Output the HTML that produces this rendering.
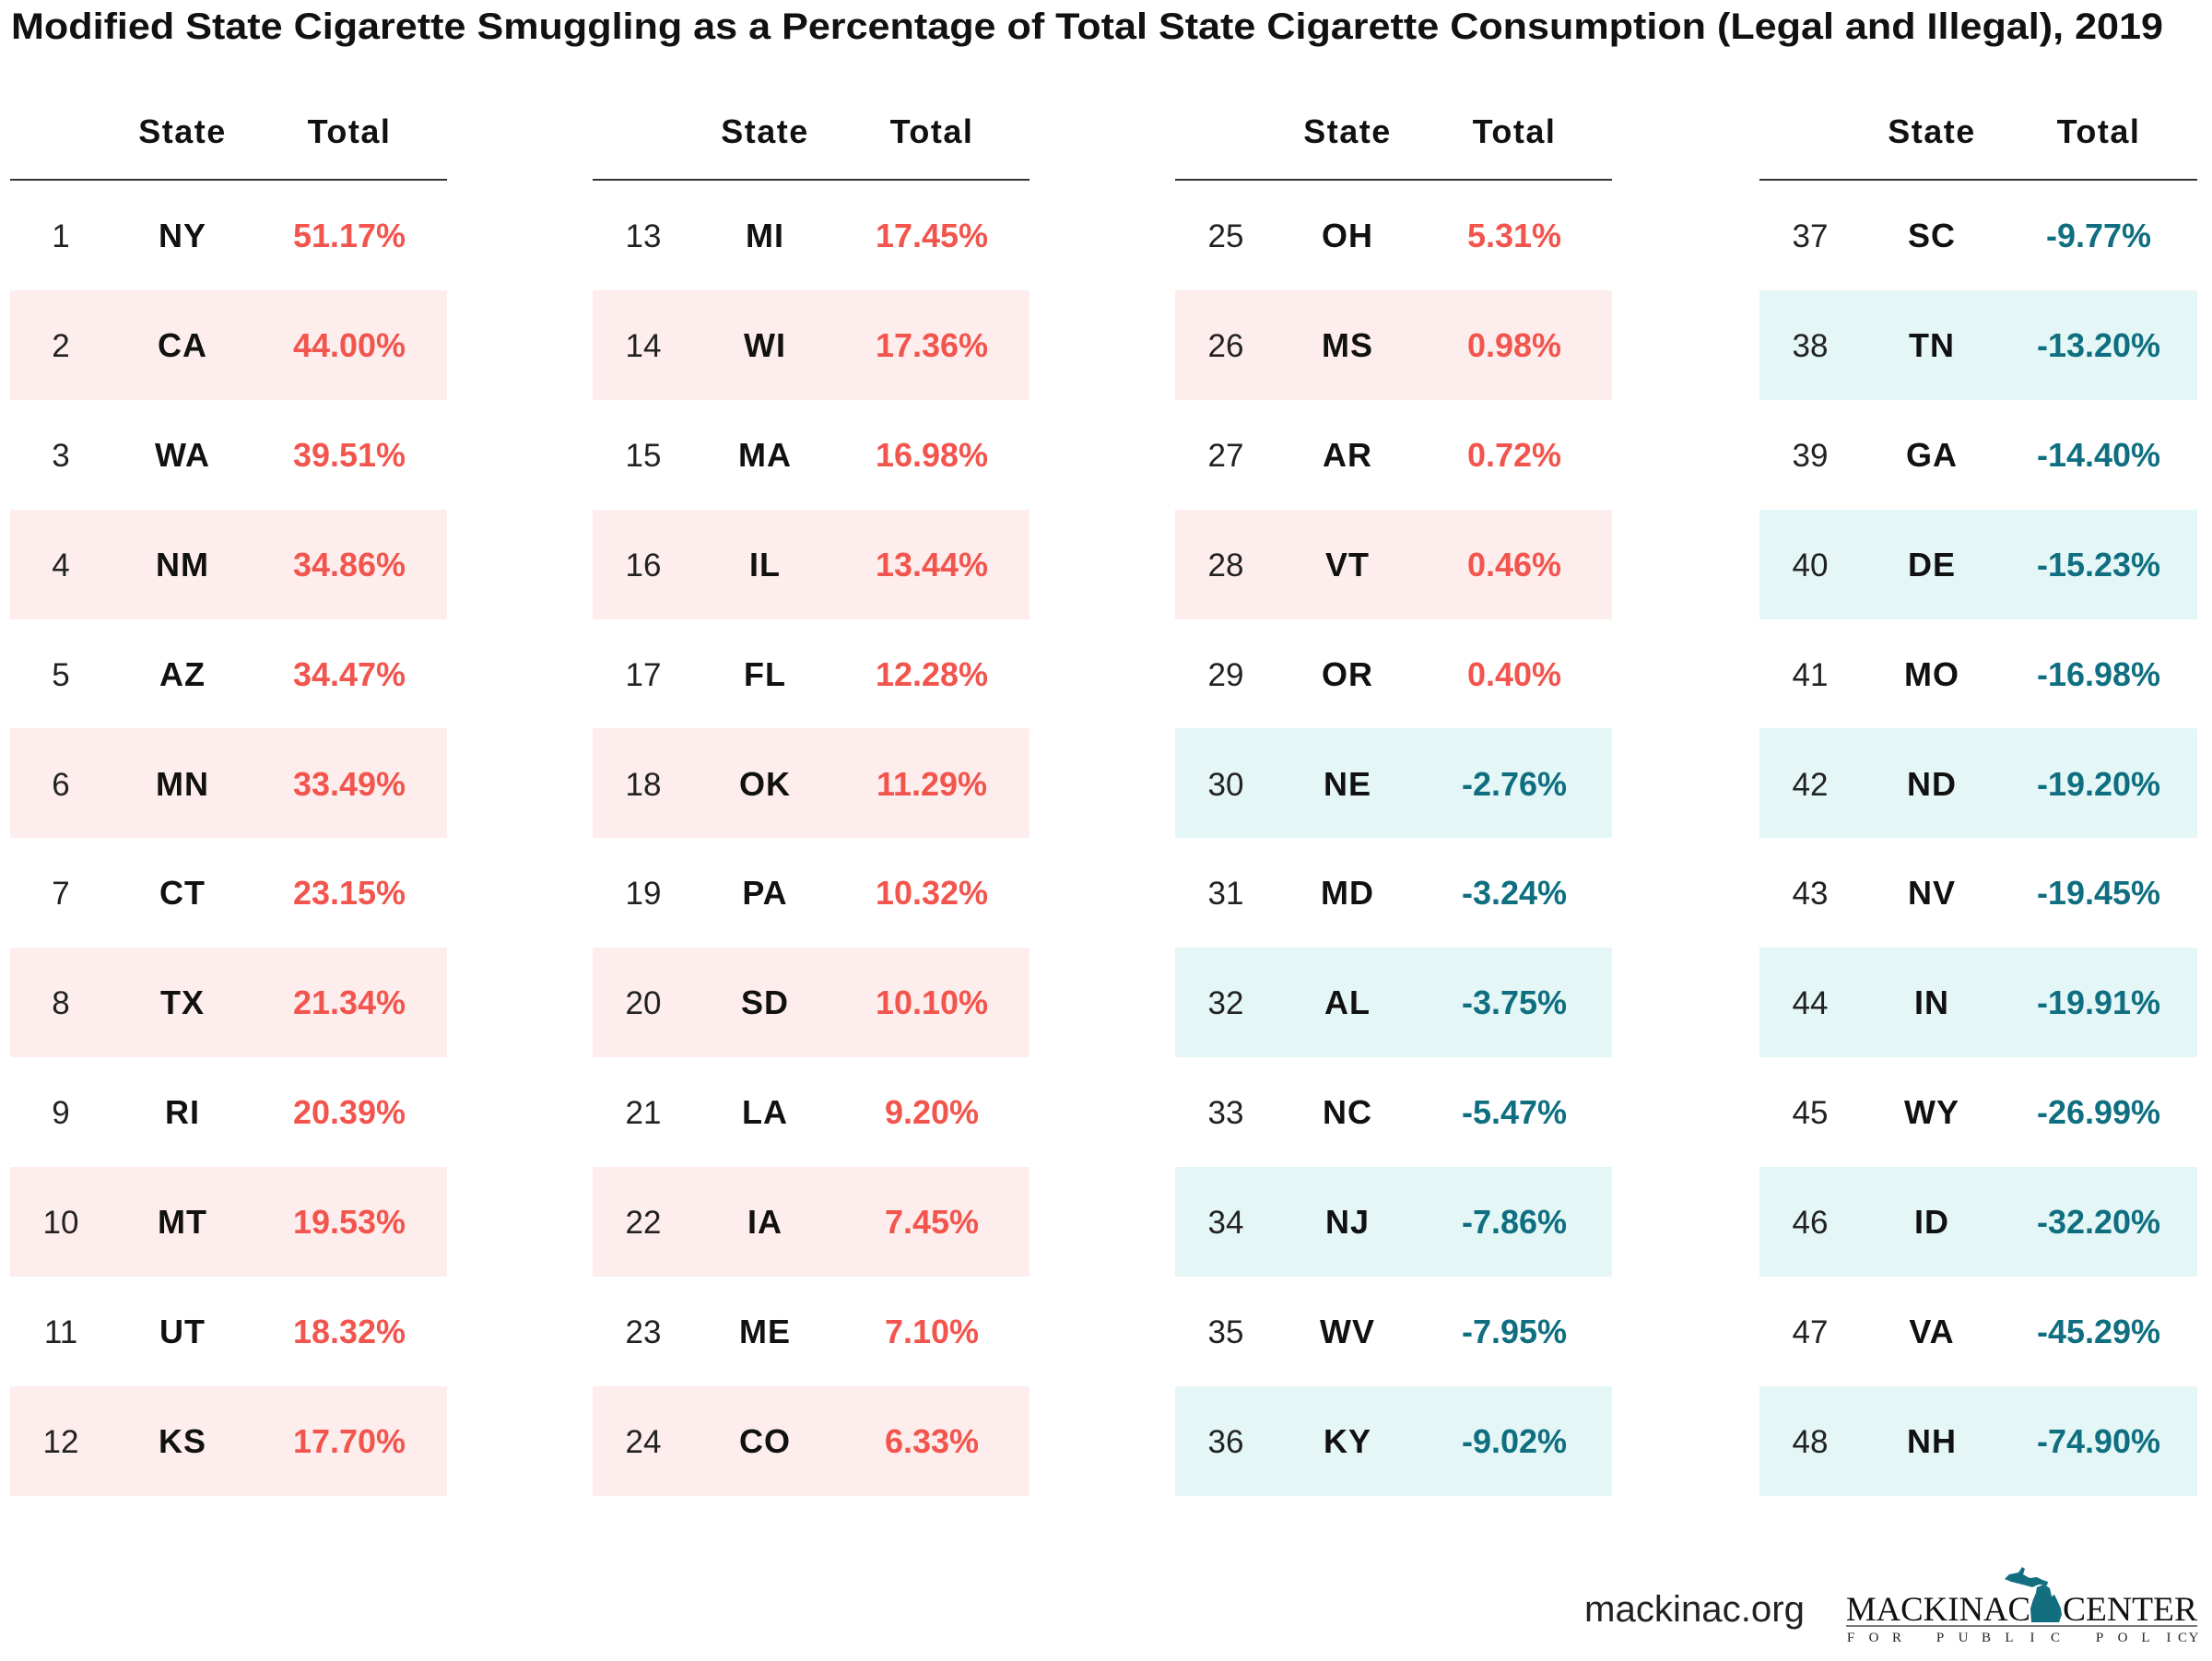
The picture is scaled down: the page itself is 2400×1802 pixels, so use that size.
<!DOCTYPE html>
<html>
<head>
<meta charset="utf-8">
<style>
html,body{margin:0;padding:0;background:#fff;}
svg{display:block;}
text{font-family:"Liberation Sans",Arial,sans-serif;}
text.sf{font-family:"Liberation Serif",serif;}
.h{font-weight:bold;font-size:36px;fill:#111;text-anchor:middle;letter-spacing:1.5px;}
.rk{font-size:35px;fill:#222;text-anchor:middle;}
.st{font-weight:bold;font-size:36px;fill:#111;text-anchor:middle;letter-spacing:1px;}
.r{font-weight:bold;font-size:36px;fill:#f2554d;text-anchor:middle;}
.t{font-weight:bold;font-size:36px;fill:#0f6f80;text-anchor:middle;}
</style>
</head>
<body>
<svg width="2400" height="1802" viewBox="0 0 2400 1802" xmlns="http://www.w3.org/2000/svg">
<rect width="2400" height="1802" fill="#fff"/>
<text x="12" y="42" font-weight="bold" font-size="40" fill="#111" textLength="2335" lengthAdjust="spacingAndGlyphs">Modified State Cigarette Smuggling as a Percentage of Total State Cigarette Consumption (Legal and Illegal), 2019</text>
<!-- Column 1 -->
<g>
<text class="h" x="198" y="155">State</text><text class="h" x="379" y="155">Total</text>
<rect x="11" y="194" width="474" height="2" fill="#333"/>
<rect x="11" y="315" width="474" height="119" fill="#feeded"/>
<rect x="11" y="553" width="474" height="119" fill="#feeded"/>
<rect x="11" y="790" width="474" height="119" fill="#feeded"/>
<rect x="11" y="1028" width="474" height="119" fill="#feeded"/>
<rect x="11" y="1266" width="474" height="119" fill="#feeded"/>
<rect x="11" y="1504" width="474" height="119" fill="#feeded"/>
<text class="rk" x="66" y="268">1</text><text class="st" x="198" y="268">NY</text><text class="r" x="379" y="268">51.17%</text>
<text class="rk" x="66" y="387">2</text><text class="st" x="198" y="387">CA</text><text class="r" x="379" y="387">44.00%</text>
<text class="rk" x="66" y="506">3</text><text class="st" x="198" y="506">WA</text><text class="r" x="379" y="506">39.51%</text>
<text class="rk" x="66" y="625">4</text><text class="st" x="198" y="625">NM</text><text class="r" x="379" y="625">34.86%</text>
<text class="rk" x="66" y="744">5</text><text class="st" x="198" y="744">AZ</text><text class="r" x="379" y="744">34.47%</text>
<text class="rk" x="66" y="863">6</text><text class="st" x="198" y="863">MN</text><text class="r" x="379" y="863">33.49%</text>
<text class="rk" x="66" y="981">7</text><text class="st" x="198" y="981">CT</text><text class="r" x="379" y="981">23.15%</text>
<text class="rk" x="66" y="1100">8</text><text class="st" x="198" y="1100">TX</text><text class="r" x="379" y="1100">21.34%</text>
<text class="rk" x="66" y="1219">9</text><text class="st" x="198" y="1219">RI</text><text class="r" x="379" y="1219">20.39%</text>
<text class="rk" x="66" y="1338">10</text><text class="st" x="198" y="1338">MT</text><text class="r" x="379" y="1338">19.53%</text>
<text class="rk" x="66" y="1457">11</text><text class="st" x="198" y="1457">UT</text><text class="r" x="379" y="1457">18.32%</text>
<text class="rk" x="66" y="1576">12</text><text class="st" x="198" y="1576">KS</text><text class="r" x="379" y="1576">17.70%</text>
</g>
<!-- Column 2 -->
<g transform="translate(632,0)">
<text class="h" x="198" y="155">State</text><text class="h" x="379" y="155">Total</text>
<rect x="11" y="194" width="474" height="2" fill="#333"/>
<rect x="11" y="315" width="474" height="119" fill="#feeded"/>
<rect x="11" y="553" width="474" height="119" fill="#feeded"/>
<rect x="11" y="790" width="474" height="119" fill="#feeded"/>
<rect x="11" y="1028" width="474" height="119" fill="#feeded"/>
<rect x="11" y="1266" width="474" height="119" fill="#feeded"/>
<rect x="11" y="1504" width="474" height="119" fill="#feeded"/>
<text class="rk" x="66" y="268">13</text><text class="st" x="198" y="268">MI</text><text class="r" x="379" y="268">17.45%</text>
<text class="rk" x="66" y="387">14</text><text class="st" x="198" y="387">WI</text><text class="r" x="379" y="387">17.36%</text>
<text class="rk" x="66" y="506">15</text><text class="st" x="198" y="506">MA</text><text class="r" x="379" y="506">16.98%</text>
<text class="rk" x="66" y="625">16</text><text class="st" x="198" y="625">IL</text><text class="r" x="379" y="625">13.44%</text>
<text class="rk" x="66" y="744">17</text><text class="st" x="198" y="744">FL</text><text class="r" x="379" y="744">12.28%</text>
<text class="rk" x="66" y="863">18</text><text class="st" x="198" y="863">OK</text><text class="r" x="379" y="863">11.29%</text>
<text class="rk" x="66" y="981">19</text><text class="st" x="198" y="981">PA</text><text class="r" x="379" y="981">10.32%</text>
<text class="rk" x="66" y="1100">20</text><text class="st" x="198" y="1100">SD</text><text class="r" x="379" y="1100">10.10%</text>
<text class="rk" x="66" y="1219">21</text><text class="st" x="198" y="1219">LA</text><text class="r" x="379" y="1219">9.20%</text>
<text class="rk" x="66" y="1338">22</text><text class="st" x="198" y="1338">IA</text><text class="r" x="379" y="1338">7.45%</text>
<text class="rk" x="66" y="1457">23</text><text class="st" x="198" y="1457">ME</text><text class="r" x="379" y="1457">7.10%</text>
<text class="rk" x="66" y="1576">24</text><text class="st" x="198" y="1576">CO</text><text class="r" x="379" y="1576">6.33%</text>
</g>
<!-- Column 3 -->
<g transform="translate(1264,0)">
<text class="h" x="198" y="155">State</text><text class="h" x="379" y="155">Total</text>
<rect x="11" y="194" width="474" height="2" fill="#333"/>
<rect x="11" y="315" width="474" height="119" fill="#feeded"/>
<rect x="11" y="553" width="474" height="119" fill="#feeded"/>
<rect x="11" y="790" width="474" height="119" fill="#e4f6f6"/>
<rect x="11" y="1028" width="474" height="119" fill="#e4f6f6"/>
<rect x="11" y="1266" width="474" height="119" fill="#e4f6f6"/>
<rect x="11" y="1504" width="474" height="119" fill="#e4f6f6"/>
<text class="rk" x="66" y="268">25</text><text class="st" x="198" y="268">OH</text><text class="r" x="379" y="268">5.31%</text>
<text class="rk" x="66" y="387">26</text><text class="st" x="198" y="387">MS</text><text class="r" x="379" y="387">0.98%</text>
<text class="rk" x="66" y="506">27</text><text class="st" x="198" y="506">AR</text><text class="r" x="379" y="506">0.72%</text>
<text class="rk" x="66" y="625">28</text><text class="st" x="198" y="625">VT</text><text class="r" x="379" y="625">0.46%</text>
<text class="rk" x="66" y="744">29</text><text class="st" x="198" y="744">OR</text><text class="r" x="379" y="744">0.40%</text>
<text class="rk" x="66" y="863">30</text><text class="st" x="198" y="863">NE</text><text class="t" x="379" y="863">-2.76%</text>
<text class="rk" x="66" y="981">31</text><text class="st" x="198" y="981">MD</text><text class="t" x="379" y="981">-3.24%</text>
<text class="rk" x="66" y="1100">32</text><text class="st" x="198" y="1100">AL</text><text class="t" x="379" y="1100">-3.75%</text>
<text class="rk" x="66" y="1219">33</text><text class="st" x="198" y="1219">NC</text><text class="t" x="379" y="1219">-5.47%</text>
<text class="rk" x="66" y="1338">34</text><text class="st" x="198" y="1338">NJ</text><text class="t" x="379" y="1338">-7.86%</text>
<text class="rk" x="66" y="1457">35</text><text class="st" x="198" y="1457">WV</text><text class="t" x="379" y="1457">-7.95%</text>
<text class="rk" x="66" y="1576">36</text><text class="st" x="198" y="1576">KY</text><text class="t" x="379" y="1576">-9.02%</text>
</g>
<!-- Column 4 -->
<g transform="translate(1898,0)">
<text class="h" x="198" y="155">State</text><text class="h" x="379" y="155">Total</text>
<rect x="11" y="194" width="475" height="2" fill="#333"/>
<rect x="11" y="315" width="475" height="119" fill="#e4f6f6"/>
<rect x="11" y="553" width="475" height="119" fill="#e4f6f6"/>
<rect x="11" y="790" width="475" height="119" fill="#e4f6f6"/>
<rect x="11" y="1028" width="475" height="119" fill="#e4f6f6"/>
<rect x="11" y="1266" width="475" height="119" fill="#e4f6f6"/>
<rect x="11" y="1504" width="475" height="119" fill="#e4f6f6"/>
<text class="rk" x="66" y="268">37</text><text class="st" x="198" y="268">SC</text><text class="t" x="379" y="268">-9.77%</text>
<text class="rk" x="66" y="387">38</text><text class="st" x="198" y="387">TN</text><text class="t" x="379" y="387">-13.20%</text>
<text class="rk" x="66" y="506">39</text><text class="st" x="198" y="506">GA</text><text class="t" x="379" y="506">-14.40%</text>
<text class="rk" x="66" y="625">40</text><text class="st" x="198" y="625">DE</text><text class="t" x="379" y="625">-15.23%</text>
<text class="rk" x="66" y="744">41</text><text class="st" x="198" y="744">MO</text><text class="t" x="379" y="744">-16.98%</text>
<text class="rk" x="66" y="863">42</text><text class="st" x="198" y="863">ND</text><text class="t" x="379" y="863">-19.20%</text>
<text class="rk" x="66" y="981">43</text><text class="st" x="198" y="981">NV</text><text class="t" x="379" y="981">-19.45%</text>
<text class="rk" x="66" y="1100">44</text><text class="st" x="198" y="1100">IN</text><text class="t" x="379" y="1100">-19.91%</text>
<text class="rk" x="66" y="1219">45</text><text class="st" x="198" y="1219">WY</text><text class="t" x="379" y="1219">-26.99%</text>
<text class="rk" x="66" y="1338">46</text><text class="st" x="198" y="1338">ID</text><text class="t" x="379" y="1338">-32.20%</text>
<text class="rk" x="66" y="1457">47</text><text class="st" x="198" y="1457">VA</text><text class="t" x="379" y="1457">-45.29%</text>
<text class="rk" x="66" y="1576">48</text><text class="st" x="198" y="1576">NH</text><text class="t" x="379" y="1576">-74.90%</text>
</g>
<!-- Footer -->
<text x="1719" y="1759" font-size="40" fill="#222" textLength="239" lengthAdjust="spacingAndGlyphs">mackinac.org</text>
<text class="sf" x="2003" y="1758" font-size="37" fill="#111" textLength="200" lengthAdjust="spacingAndGlyphs">MACKINAC</text>
<text class="sf" x="2238" y="1758" font-size="37" fill="#111" textLength="146" lengthAdjust="spacingAndGlyphs">CENTER</text>
<path d="M2175,1713 L2180,1708 L2190,1706 L2194,1700 L2197,1702 L2195,1708 L2202,1712 L2210,1711 L2216,1714 L2222,1716 L2221,1720 L2212,1719 L2205,1722 L2198,1720 L2190,1718 L2182,1716 Z" fill="#136f80"/>
<path d="M2210,1722 L2218,1719 L2224,1723 L2226,1732 L2229,1730 L2232,1736 L2236,1745 L2237,1752 L2234,1760 L2204,1760 L2203,1745 L2206,1735 L2209,1728 Z" fill="#136f80"/>
<rect x="2003" y="1763" width="381" height="2" fill="#777"/>
<g font-size="15" fill="#222" text-anchor="middle">
<text class="sf" x="2008" y="1781">F</text><text class="sf" x="2033" y="1781">O</text><text class="sf" x="2058" y="1781">R</text>
<text class="sf" x="2105" y="1781">P</text><text class="sf" x="2130" y="1781">U</text><text class="sf" x="2155" y="1781">B</text><text class="sf" x="2180" y="1781">L</text><text class="sf" x="2205" y="1781">I</text><text class="sf" x="2230" y="1781">C</text>
<text class="sf" x="2278" y="1781">P</text><text class="sf" x="2303" y="1781">O</text><text class="sf" x="2328" y="1781">L</text><text class="sf" x="2353" y="1781">I</text><text class="sf" x="2368" y="1781">C</text><text class="sf" x="2380" y="1781">Y</text>
</g>
</svg>
</body>
</html>
